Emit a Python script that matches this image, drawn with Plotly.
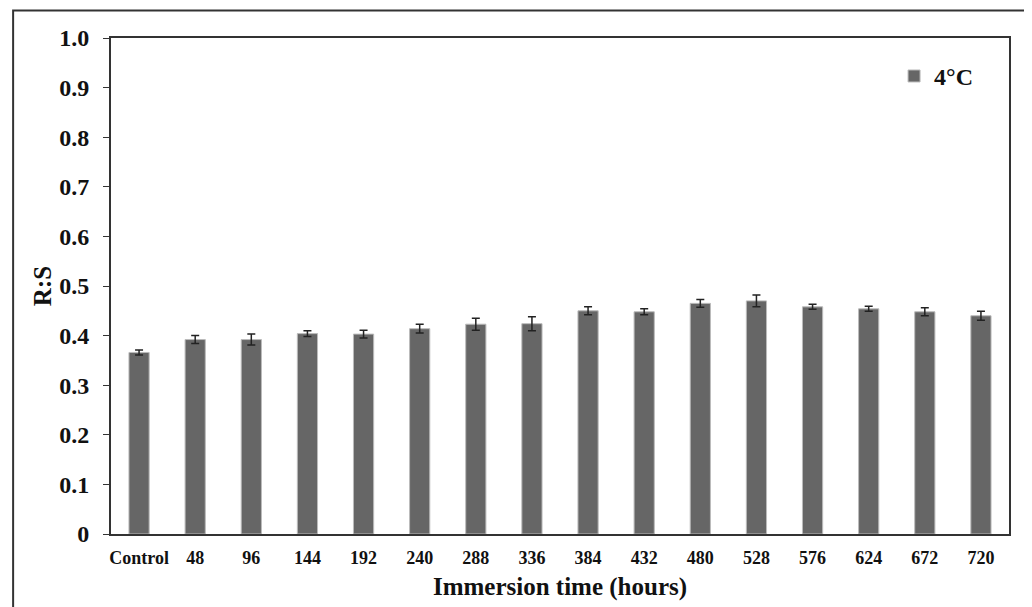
import plotly.graph_objects as go

categories = ["Control", "48", "96", "144", "192", "240", "288", "336", "384",
              "432", "480", "528", "576", "624", "672", "720"]
ratio_4c = [0.366, 0.392, 0.392, 0.404, 0.403, 0.414, 0.423, 0.424, 0.450,
            0.448, 0.465, 0.470, 0.458, 0.454, 0.448, 0.440]
err_4c = [0.005, 0.008, 0.011, 0.006, 0.008, 0.009, 0.012, 0.014, 0.008,
          0.006, 0.008, 0.012, 0.005, 0.005, 0.008, 0.009]
ytick_vals = [0, 0.1, 0.2, 0.3, 0.4, 0.5, 0.6, 0.7, 0.8, 0.9, 1.0]
ytick_text = ["0", "0.1", "0.2", "0.3", "0.4", "0.5", "0.6", "0.7", "0.8", "0.9", "1.0"]

FONT = "Liberation Serif"

fig = go.Figure()
fig.add_trace(go.Bar(
    x=categories, y=ratio_4c, name="<b>4°C</b>",
    marker=dict(color="#666666", line=dict(color="#bbbbbb", width=1)),
    error_y=dict(type="data", array=err_4c, color="#222222", thickness=1.5, width=4),
    width=0.36,
))

fig.update_layout(
    width=1024, height=599,
    margin=dict(l=103, r=23, t=30, b=73),
    paper_bgcolor="white", plot_bgcolor="white",
    font=dict(family=FONT, color="#111111"),
    showlegend=True,
    legend=dict(x=0.872, y=0.968, xanchor="left", yanchor="top",
                font=dict(family=FONT, size=24, color="#111111"),
                bgcolor="rgba(0,0,0,0)", itemwidth=30),
    xaxis=dict(
        automargin=False,
        showline=True, linecolor="#333333", linewidth=2, mirror=True,
        ticks="", tickfont=dict(family=FONT, size=18, color="#111111"),
        tickprefix="<b>", ticksuffix="</b>",
        ticklabelstandoff=6,
        title=dict(text="<b>Immersion time (hours)</b>",
                   font=dict(family=FONT, size=25, color="#111111"), standoff=11),
        showgrid=False,
    ),
    yaxis=dict(
        automargin=False,
        range=[0, 1.0], tickvals=ytick_vals, ticktext=["<b>%s</b>" % t for t in ytick_text],
        showline=True, linecolor="#333333", linewidth=2, mirror=True,
        ticks="outside", ticklen=6, tickcolor="#333333",
        ticklabelstandoff=9,
        tickfont=dict(family=FONT, size=24, color="#111111"),
        title=dict(text="<b>R:S</b>", font=dict(family=FONT, size=25, color="#111111"),
                   standoff=0),
        showgrid=False, zeroline=False,
    ),
    shapes=[dict(type="rect", xref="paper", yref="paper",
                 x0=-0.109, x1=1.0195, y0=-0.16, y1=1.0555,
                 line=dict(color="#333333", width=2))],
)

fig.write_html("out.html")
